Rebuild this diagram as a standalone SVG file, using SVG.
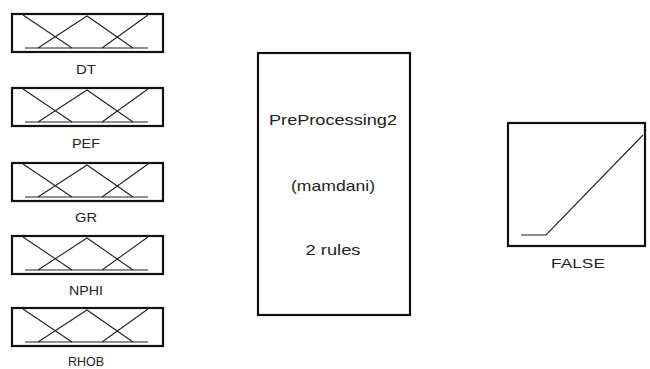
<svg xmlns="http://www.w3.org/2000/svg" width="650" height="369" viewBox="0 0 650 369">
<style>
.frame{fill:#fff;stroke:#111;stroke-width:2.2}
.mf{fill:none;stroke:#222;stroke-width:1.1}
.lbl{font-family:"Liberation Sans",Arial,sans-serif;font-size:13.5px;fill:#222;text-anchor:middle}
.big{font-family:"Liberation Sans",Arial,sans-serif;font-size:15px;fill:#222;text-anchor:middle}
</style>
<defs>
<g id="mfplot">
<rect class="frame" x="0" y="0" width="151" height="38"/>
<polyline class="mf" points="11,1 60,34"/>
<polyline class="mf" points="26,34 75,2 121,34"/>
<polyline class="mf" points="90,34 136,1"/>
<line class="mf" x1="13" y1="34" x2="136" y2="34"/>
</g>
</defs>
<rect width="650" height="369" fill="#fff"/>
<g id="connectors"/>
<g id="DT">
<use href="#mfplot" x="12" y="14"/>
<text class="lbl" x="86" y="74" textLength="20" lengthAdjust="spacingAndGlyphs">DT</text>
</g>
<g id="PEF">
<use href="#mfplot" x="12" y="88"/>
<text class="lbl" x="86" y="148" textLength="28" lengthAdjust="spacingAndGlyphs">PEF</text>
</g>
<g id="GR">
<use href="#mfplot" x="12" y="163"/>
<text class="lbl" x="86" y="222" textLength="22" lengthAdjust="spacingAndGlyphs">GR</text>
</g>
<g id="NPHI">
<use href="#mfplot" x="12" y="236"/>
<text class="lbl" x="86" y="295" textLength="34" lengthAdjust="spacingAndGlyphs">NPHI</text>
</g>
<g id="RHOB">
<use href="#mfplot" x="12" y="308"/>
<text class="lbl" x="86" y="366" textLength="36" lengthAdjust="spacingAndGlyphs">RHOB</text>
</g>
<g id="PreProcessing2">
<rect class="frame" x="258" y="53" width="152" height="262"/>
<text class="big" x="333" y="125" textLength="128" lengthAdjust="spacingAndGlyphs">PreProcessing2</text>
<text class="big" x="333" y="191" textLength="84" lengthAdjust="spacingAndGlyphs">(mamdani)</text>
<text class="big" x="333" y="255" textLength="55" lengthAdjust="spacingAndGlyphs">2 rules</text>
</g>
<g id="FALSE">
<rect class="frame" x="508" y="123" width="137" height="123"/>
<polyline class="mf" points="521,235 546,235 643,135"/>
<text class="lbl" x="578" y="268" textLength="54" lengthAdjust="spacingAndGlyphs">FALSE</text>
</g>
</svg>
